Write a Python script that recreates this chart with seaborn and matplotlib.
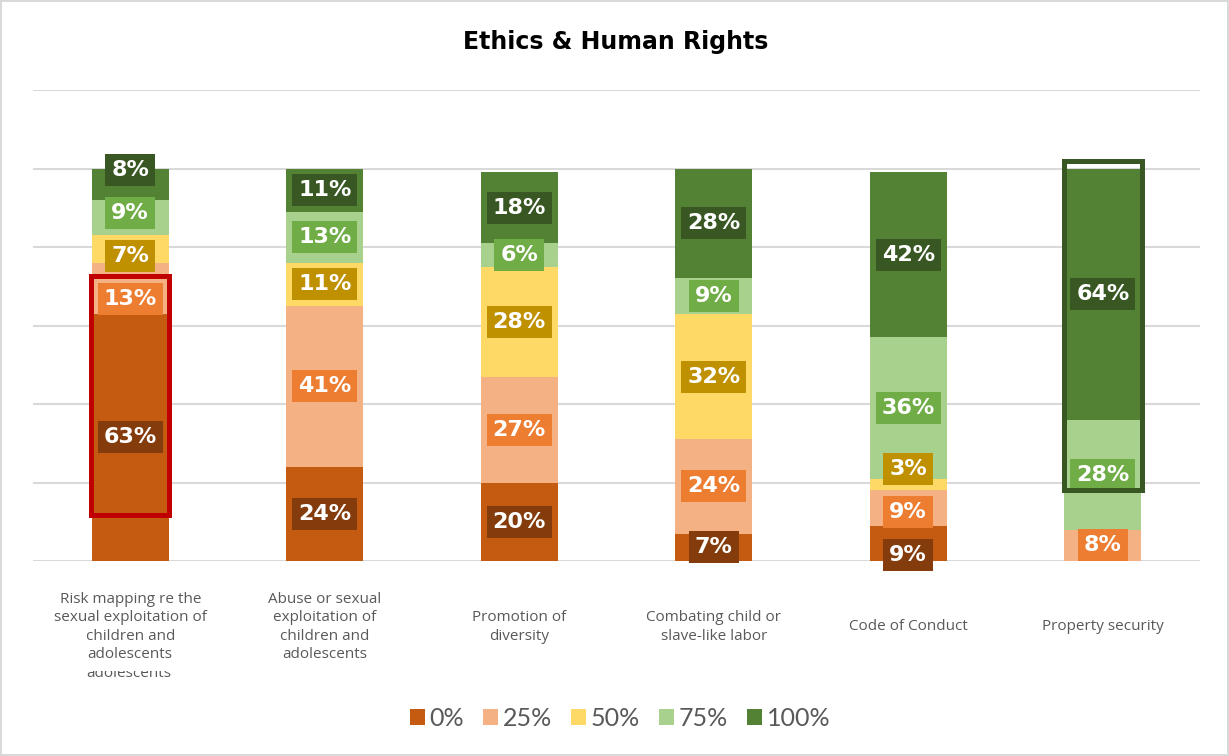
import matplotlib
matplotlib.use("Agg")
import matplotlib.pyplot as plt
import numpy as np
import pandas as pd
import seaborn as sns
from matplotlib.patches import Rectangle, Patch
from matplotlib.transforms import blended_transform_factory, Bbox, TransformedBbox

# ---- data ----
categories = [
    "Risk mapping re the\nsexual exploitation of\nchildren and\nadolescents",
    "Abuse or sexual\nexploitation of\nchildren and\nadolescents",
    "Promotion of\ndiversity",
    "Combating child or\nslave-like labor",
    "Code of Conduct",
    "Property security",
]
levels = ["0%", "25%", "50%", "75%", "100%"]
share_0 = [63, 24, 20, 7, 9, 0]
share_25 = [13, 41, 27, 24, 9, 8]
share_50 = [7, 11, 28, 32, 3, 0]
share_75 = [9, 13, 6, 9, 36, 28]
share_100 = [8, 11, 18, 28, 42, 64]

fill_colors = ["#c55a11", "#f4b183", "#ffd966", "#a9d18e", "#548235"]
label_colors = ["#843c0c", "#ed7d31", "#bf9000", "#70ad47", "#385723"]

series = [share_0, share_25, share_50, share_75, share_100]
keys = [f"c{i}" for i in range(len(categories))]

rows = []
for k, cat in enumerate(keys):
    for lvl, vals in zip(levels, series):
        rows.append({"key": cat, "level": lvl, "value": vals[k]})
df = pd.DataFrame(rows)
df["top"] = df.groupby("key")["value"].cumsum()
df["bottom"] = df["top"] - df["value"]

# ---- figure ----
sns.set_style("white")
plt.rcParams["font.family"] = ["DejaVu Sans"]

W, H = 1229, 756
fig = plt.figure(figsize=(W / 100, H / 100), dpi=100)
fig.patch.set_facecolor("white")
fig.patch.set_edgecolor("#d9d9d9")
fig.patch.set_linewidth(1.5)

ax = fig.add_axes([33 / W, 1 - 561 / H, 1167 / W, 471 / H])

bar_w = 0.395
# stacked bars: draw cumulative tops from the highest level down
for lvl, col in reversed(list(zip(levels, fill_colors))):
    sub = df[df["level"] == lvl]
    sns.barplot(data=sub, x="key", y="top", order=keys, color=col,
                saturation=1, width=bar_w, errorbar=None, ax=ax,
                linewidth=0, zorder=2)

ax.set_xlim(-0.5, len(keys) - 0.5)
ax.set_ylim(0, 120)
ax.set_yticks(np.arange(0, 121, 20))
ax.yaxis.grid(True, color="#d9d9d9", linewidth=1.5, zorder=0)
ax.set_axisbelow(True)
ax.set_xticks([])
ax.set_yticklabels([])
ax.tick_params(left=False, bottom=False)
ax.set_xlabel("")
ax.set_ylabel("")
for s in ax.spines.values():
    s.set_visible(False)

# ---- value labels, spread apart where segments are thin ----
min_gap = 11.0
for k, cat in enumerate(keys):
    sub = df[(df["key"] == cat) & (df["value"] > 0)].reset_index(drop=True)
    pos = ((sub["top"] + sub["bottom"]) / 2).to_numpy(dtype=float)
    for _ in range(200):
        moved = False
        for j in range(len(pos) - 1):
            gap = pos[j + 1] - pos[j]
            if gap < min_gap - 1e-6:
                d = (min_gap - gap) / 2
                pos[j] -= d
                pos[j + 1] += d
                moved = True
        if not moved:
            break
    for j, r in sub.iterrows():
        bg = label_colors[levels.index(r["level"])]
        ax.text(k, pos[j], f"{int(r['value'])}%", ha="center", va="center",
                fontsize=16, fontweight="bold", color="white", zorder=5,
                bbox=dict(boxstyle="square,pad=0.27", fc=bg, ec="none"),
                clip_on=False)

# ---- highlight frames ----
ax.add_patch(Rectangle((0 - 0.2, 11.7), 0.4, 72.6 - 11.7, fill=False,
                       ec="#c00000", lw=3.6, zorder=6, clip_on=False))
ax.add_patch(Rectangle((5 - 0.2, 18.2), 0.4, 102.0 - 18.2, fill=False,
                       ec="#385723", lw=3.6, zorder=6, clip_on=False))

# ---- category labels ----
trans = blended_transform_factory(ax.transData, fig.transFigure)
for k, cat in enumerate(categories):
    ax.text(k, 1 - 627 / H, cat, transform=trans, ha="center", va="center",
            fontsize=11, color="#595959", linespacing=1.32,
            family="Open Sans", clip_on=False)

# cut-off repeat of the last label line
ghost = fig.text(129 / W, 1 - 677 / H, "adolescents", ha="center", va="baseline",
                 fontsize=11, color="#595959", family="Open Sans")
ghost.set_clip_box(TransformedBbox(Bbox([[0, 1 - 700 / H], [1, 1 - 671 / H]]),
                                   fig.transFigure))
ghost.set_clip_on(True)

# ---- title ----
fig.text(616 / W, 1 - 42 / H, "Ethics & Human Rights", ha="center", va="center",
         fontsize=17, fontweight="bold", color="black")

# ---- legend ----
handles = [Patch(facecolor=c, edgecolor="none", label=l)
           for l, c in zip(levels, fill_colors)]
fig.legend(handles=handles, loc="center", bbox_to_anchor=(620 / W, 1 - 718 / H),
           ncol=5, frameon=False, handlelength=0.6, handleheight=0.6,
           handletextpad=0.2, columnspacing=0.75,
           prop={"family": "Lato", "size": 18}, labelcolor="#595959")

fig.savefig("out.png", dpi=100, facecolor=fig.get_facecolor(),
            edgecolor=fig.get_edgecolor())
